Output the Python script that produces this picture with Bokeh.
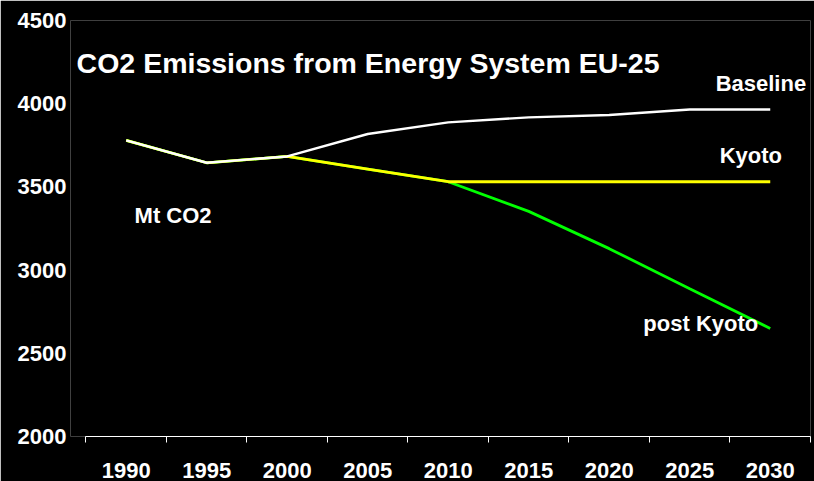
from bokeh.plotting import figure
from bokeh.models import Range1d, FixedTicker, Label
from bokeh.embed import file_html
from bokeh.resources import INLINE

# EU-25 CO2 emissions from the energy system, Mt CO2
years = [1990, 1995, 2000, 2005, 2010, 2015, 2020, 2025, 2030]
year_labels = ["1990", "1995", "2000", "2005", "2010", "2015", "2020", "2025", "2030"]
baseline = [3780, 3645, 3683, 3818, 3888, 3918, 3932, 3965, 3965]
kyoto = [3780, 3645, 3683, 3607, 3531, 3531, 3531, 3531, 3531]
post_kyoto = [3780, 3645, 3683, 3607, 3531, 3353, 3129, 2888, 2649]
y_ticks = [2000, 2500, 3000, 3500, 4000, 4500]

FONT = "Liberation Sans"

# the plotting frame reaches a little left of the first category so the
# title can start there; the x axis itself is bounded to the categories
p = figure(width=814, height=481, output_backend="svg", toolbar_location=None,
           x_range=Range1d(1986.54, 2032.5), y_range=Range1d(2000, 4500),
           min_border_left=70, min_border_right=4, min_border_top=20,
           min_border_bottom=45)
p.background_fill_color = "black"
p.border_fill_color = "black"
p.outline_line_color = None
p.xgrid.visible = False
p.ygrid.visible = False

# category axis: tick marks between the years, labels centred on them
boundaries = [y - 2.5 for y in years] + [years[-1] + 2.5]
xa = p.xaxis[0]
xa.bounds = (boundaries[0], boundaries[-1])
xa.ticker = FixedTicker(ticks=years, minor_ticks=boundaries)
xa.major_label_overrides = dict(zip(years, year_labels))
xa.axis_line_color = "white"
xa.axis_line_width = 1
xa.major_tick_out = 0
xa.major_tick_in = 0
xa.minor_tick_out = 6
xa.minor_tick_in = 0
xa.minor_tick_line_color = "white"
xa.major_label_standoff = 20
xa.major_label_text_color = "white"
xa.major_label_text_font = FONT
xa.major_label_text_font_style = "bold"
xa.major_label_text_font_size = "22px"

ya = p.yaxis[0]
ya.ticker = FixedTicker(ticks=y_ticks)
ya.axis_line_color = None
ya.major_tick_line_color = None
ya.minor_tick_line_color = None
ya.major_tick_out = 0
ya.major_tick_in = 0
ya.major_label_standoff = 4
ya.major_label_text_color = "white"
ya.major_label_text_font = FONT
ya.major_label_text_font_style = "bold"
ya.major_label_text_font_size = "22px"

# scenarios: post Kyoto underneath, Kyoto over it, Baseline on top
p.line(years, post_kyoto, line_color="#00FF00", line_width=2.8)
p.line(years, kyoto, line_color="#FFFF00", line_width=2.8)
p.line(years, baseline, line_color="white", line_width=2.4)

def add_text(x, y, text, size):
    p.add_layout(Label(x=x, y=y, text=text, text_color="white",
                       text_font=FONT, text_font_style="bold",
                       text_font_size=size, text_baseline="alphabetic",
                       text_align="left"))

add_text(1986.92, 4245, "CO2 Emissions from Energy System EU-25", "28.5px")
add_text(2026.61, 4120, "Baseline", "22px")
add_text(2026.86, 3686, "Kyoto", "22px")
add_text(2022.12, 2678, "post Kyoto", "22px")
add_text(1990.52, 3327, "Mt CO2", "22px")

open("out.html", "w").write(file_html(p, INLINE))
